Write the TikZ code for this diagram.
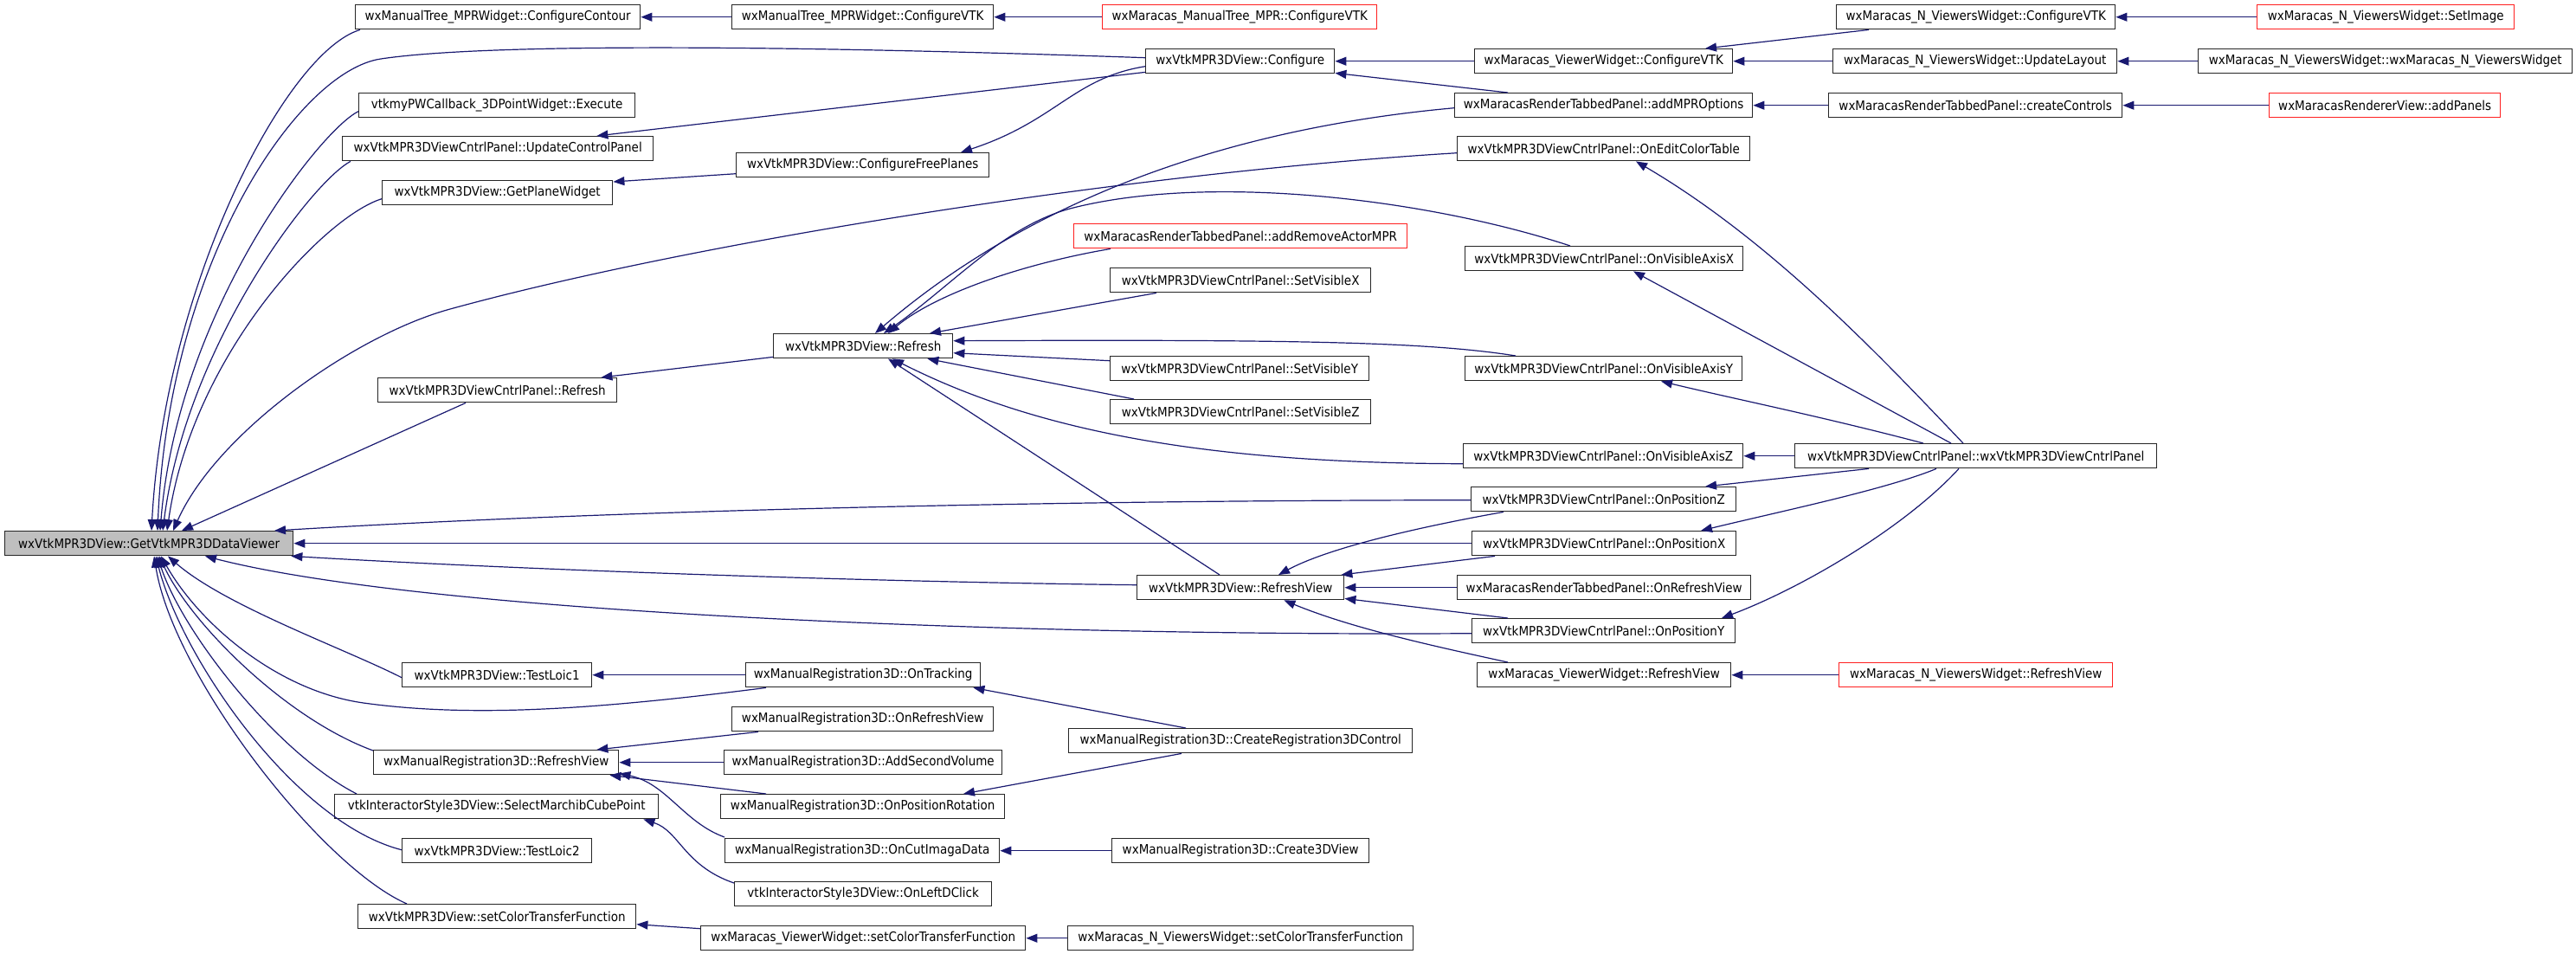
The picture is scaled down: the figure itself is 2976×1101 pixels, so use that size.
\documentclass[tikz,border=0pt]{standalone}
\usepackage{fontspec}
\IfFontExistsTF{DejaVu Sans Condensed}{\setmainfont{DejaVu Sans Condensed}}{\setmainfont{DejaVu Sans}[FakeStretch=0.88]}
\usetikzlibrary{arrows.meta,calc}
\definecolor{edgeblue}{HTML}{191970}
\definecolor{nodered}{HTML}{FF2020}
\definecolor{mainfill}{HTML}{BFBFBF}
\tikzset{
  box/.style={draw=black!85, line width=1.4pt, rectangle, minimum height=28pt, inner sep=0pt, anchor=north west, fill=white, font=\fontsize{15}{18}\selectfont},
  redbox/.style={box, draw=nodered},
  mainbox/.style={box, fill=mainfill},
  edge/.style={draw=edgeblue, line width=1.2pt, -{Triangle[length=13pt,width=10pt]}},
}
\begin{document}
\begin{tikzpicture}[x=1pt,y=-1pt]
\useasboundingbox (0,0) rectangle (2976,1101);
% column 0
\node[mainbox, minimum width=333pt] (main) at (5,613) {wxVtkMPR3DView::GetVtkMPR3DDataViewer};
% column 1
\node[box, minimum width=329pt] (cc) at (410,5) {wxManualTree\_MPRWidget::ConfigureContour};
\node[box, minimum width=319pt] (exe) at (414,107) {vtkmyPWCallback\_3DPointWidget::Execute};
\node[box, minimum width=359pt] (ucp) at (395,157) {wxVtkMPR3DViewCntrlPanel::UpdateControlPanel};
\node[box, minimum width=266pt] (gpw) at (441,208) {wxVtkMPR3DView::GetPlaneWidget};
\node[box, minimum width=276pt] (cpr) at (436,436) {wxVtkMPR3DViewCntrlPanel::Refresh};
\node[box, minimum width=219pt] (tl1) at (464,765) {wxVtkMPR3DView::TestLoic1};
\node[box, minimum width=283pt] (mrrv) at (431,866) {wxManualRegistration3D::RefreshView};
\node[box, minimum width=374pt] (smcp) at (386,917) {vtkInteractorStyle3DView::SelectMarchibCubePoint};
\node[box, minimum width=219pt] (tl2) at (464,968) {wxVtkMPR3DView::TestLoic2};
\node[box, minimum width=321pt] (sctf) at (413,1044) {wxVtkMPR3DView::setColorTransferFunction};
% column 2
\node[box, minimum width=302pt] (cvtk) at (845,5) {wxManualTree\_MPRWidget::ConfigureVTK};
\node[box, minimum width=292pt] (cfp) at (850,176) {wxVtkMPR3DView::ConfigureFreePlanes};
\node[box, minimum width=207pt] (ref) at (893,385) {wxVtkMPR3DView::Refresh};
\node[box, minimum width=271pt] (ontr) at (861,765) {wxManualRegistration3D::OnTracking};
\node[box, minimum width=302pt] (onrv) at (845,816) {wxManualRegistration3D::OnRefreshView};
\node[box, minimum width=321pt] (asv) at (836,866) {wxManualRegistration3D::AddSecondVolume};
\node[box, minimum width=328pt] (opr) at (832,917) {wxManualRegistration3D::OnPositionRotation};
\node[box, minimum width=317pt] (ocid) at (837,968) {wxManualRegistration3D::OnCutImagaData};
\node[box, minimum width=297pt] (oldc) at (848,1018) {vtkInteractorStyle3DView::OnLeftDClick};
\node[box, minimum width=375pt] (vwsctf) at (809,1069) {wxMaracas\_ViewerWidget::setColorTransferFunction};
% column 3
\node[redbox, minimum width=317pt] (mtmpr) at (1273,5) {wxMaracas\_ManualTree\_MPR::ConfigureVTK};
\node[box, minimum width=218pt] (conf) at (1323,56) {wxVtkMPR3DView::Configure};
\node[redbox, minimum width=385pt] (arma) at (1240,258) {wxMaracasRenderTabbedPanel::addRemoveActorMPR};
\node[box, minimum width=301pt] (svx) at (1282,309) {wxVtkMPR3DViewCntrlPanel::SetVisibleX};
\node[box, minimum width=299pt] (svy) at (1282,411) {wxVtkMPR3DViewCntrlPanel::SetVisibleY};
\node[box, minimum width=301pt] (svz) at (1282,461) {wxVtkMPR3DViewCntrlPanel::SetVisibleZ};
\node[box, minimum width=239pt] (rv) at (1313,664) {wxVtkMPR3DView::RefreshView};
\node[box, minimum width=397pt] (cr3c) at (1234,841) {wxManualRegistration3D::CreateRegistration3DControl};
\node[box, minimum width=297pt] (c3v) at (1284,968) {wxManualRegistration3D::Create3DView};
\node[box, minimum width=399pt] (nvwsctf) at (1233,1069) {wxMaracas\_N\_ViewersWidget::setColorTransferFunction};
% column 4
\node[box, minimum width=298pt] (vwcvtk) at (1703,56) {wxMaracas\_ViewerWidget::ConfigureVTK};
\node[box, minimum width=344pt] (ampo) at (1680,107) {wxMaracasRenderTabbedPanel::addMPROptions};
\node[box, minimum width=338pt] (oect) at (1683,157) {wxVtkMPR3DViewCntrlPanel::OnEditColorTable};
\node[box, minimum width=321pt] (ovax) at (1692,284) {wxVtkMPR3DViewCntrlPanel::OnVisibleAxisX};
\node[box, minimum width=320pt] (ovay) at (1692,411) {wxVtkMPR3DViewCntrlPanel::OnVisibleAxisY};
\node[box, minimum width=323pt] (ovaz) at (1690,512) {wxVtkMPR3DViewCntrlPanel::OnVisibleAxisZ};
\node[box, minimum width=306pt] (opz) at (1699,562) {wxVtkMPR3DViewCntrlPanel::OnPositionZ};
\node[box, minimum width=305pt] (opx) at (1700,613) {wxVtkMPR3DViewCntrlPanel::OnPositionX};
\node[box, minimum width=339pt] (mrtprv) at (1683,664) {wxMaracasRenderTabbedPanel::OnRefreshView};
\node[box, minimum width=304pt] (opy) at (1700,714) {wxVtkMPR3DViewCntrlPanel::OnPositionY};
\node[box, minimum width=293pt] (vwrv) at (1706,765) {wxMaracas\_ViewerWidget::RefreshView};
% column 5
\node[box, minimum width=322pt] (nvwcvtk) at (2121,5) {wxMaracas\_N\_ViewersWidget::ConfigureVTK};
\node[box, minimum width=328pt] (nvwul) at (2117,56) {wxMaracas\_N\_ViewersWidget::UpdateLayout};
\node[box, minimum width=339pt] (cctl) at (2112,107) {wxMaracasRenderTabbedPanel::createControls};
\node[box, minimum width=418pt] (ctor) at (2073,512) {wxVtkMPR3DViewCntrlPanel::wxVtkMPR3DViewCntrlPanel};
\node[redbox, minimum width=316pt] (nvwrv) at (2124,765) {wxMaracas\_N\_ViewersWidget::RefreshView};
% column 6
\node[redbox, minimum width=297pt] (simg) at (2607,5) {wxMaracas\_N\_ViewersWidget::SetImage};
\node[box, minimum width=432pt] (nvwctor) at (2539,56) {wxMaracas\_N\_ViewersWidget::wxMaracas\_N\_ViewersWidget};
\node[redbox, minimum width=267pt] (apan) at (2621,107) {wxMaracasRendererView::addPanels};

% ---- edges into main
\draw[edge] ($(cc.south west)+(6,0)$) .. controls (330,60) and (190,330) .. ($(main.north west)+(170,0)$);
\draw[edge] ($(conf.west)+(0,-4)$) .. controls (900,52) and (560,50) .. (440,68) .. controls (345,82) and (195,300) .. ($(main.north west)+(177,0)$);
\draw[edge] ($(exe.west)+(0,7)$) .. controls (370,150) and (205,360) .. ($(main.north west)+(180,0)$);
\draw[edge] ($(ucp.south west)+(10,0)$) .. controls (360,210) and (215,400) .. ($(main.north west)+(183,0)$);
\draw[edge] ($(gpw.west)+(0,7)$) .. controls (375,250) and (222,410) .. ($(main.north west)+(188,0)$);
\draw[edge] ($(oect.west)+(0,5)$) .. controls (1300,200) and (800,280) .. (520,357) .. controls (410,387) and (250,500) .. ($(main.north west)+(195,0)$);
\draw[edge] ($(cpr.south west)+(102,0)$) -- ($(main.north west)+(205,0)$);
\draw[edge] ($(opz.west)+(0,1)$) .. controls (1200,578) and (700,590) .. ($(main.north west)+(312,0)$);
\draw[edge] (opx.west) -- (main.east);
\draw[edge] ($(rv.west)+(0,-3)$) .. controls (1000,672) and (600,658) .. ($(main.south east)+(-3,0)$);
\draw[edge] ($(opy.west)+(0,3)$) .. controls (1200,735) and (500,710) .. ($(main.south west)+(232,0)$);
\draw[edge] ($(tl1.west)+(0,3)$) .. controls (400,750) and (260,700) .. ($(main.south west)+(189,0)$);
\draw[edge] ($(ontr.south west)+(24,0)$) .. controls (700,818) and (550,830) .. (420,812) .. controls (320,798) and (230,720) .. ($(main.south west)+(181,0)$);
\draw[edge] ($(mrrv.north west)+(0,1)$) .. controls (330,830) and (220,720) .. ($(main.south west)+(179,0)$);
\draw[edge] ($(smcp.north west)+(26,0)$) .. controls (320,870) and (210,730) .. ($(main.south west)+(177,0)$);
\draw[edge] ($(tl2.west)+(0,-1)$) .. controls (340,950) and (210,760) .. ($(main.south west)+(175,0)$);
\draw[edge] ($(sctf.north west)+(57,0)$) .. controls (370,1000) and (200,780) .. ($(main.south west)+(173,0)$);

% ---- top rows
\draw[edge] (cvtk.west) -- (cc.east);
\draw[edge] (mtmpr.west) -- (cvtk.east);
\draw[edge] (vwcvtk.west) -- (conf.east);
\draw[edge] ($(ampo.north west)+(62,0)$) -- ($(conf.south east)+(0,-1)$);
\draw[edge] ($(conf.south west)+(0,-2)$) -- ($(ucp.north east)+(-66,0)$);
\draw[edge] ($(conf.west)+(0,6)$) .. controls (1240,90) and (1220,140) .. ($(cfp.north west)+(260,0)$);
\draw[edge] ($(cfp.west)+(0,10)$) -- ($(gpw.north east)+(0,2)$);
\draw[edge] ($(nvwcvtk.south west)+(38,0)$) -- ($(vwcvtk.north west)+(267,0)$);
\draw[edge] (nvwul.west) -- (vwcvtk.east);
\draw[edge] (simg.west) -- (nvwcvtk.east);
\draw[edge] (nvwctor.west) -- (nvwul.east);
\draw[edge] (cctl.west) -- (ampo.east);
\draw[edge] (apan.west) -- (cctl.east);

% ---- Refresh
\draw[edge] ($(ref.south west)+(0,-2)$) -- ($(cpr.north east)+(-19,0)$);
\draw[edge] ($(ampo.west)+(0,3)$) .. controls (1400,150) and (1180,240) .. ($(ref.north west)+(118,0)$);
\draw[edge] ($(arma.south west)+(43,0)$) .. controls (1180,305) and (1080,340) .. ($(ref.north west)+(133,0)$);
\draw[edge] ($(ovax.north west)+(122,0)$) .. controls (1650,230) and (1400,200) .. (1240,240) .. controls (1160,260) and (1100,330) .. ($(ref.north west)+(128,0)$);
\draw[edge] ($(svx.south west)+(54,0)$) -- ($(ref.north west)+(181,0)$);
\draw[edge] ($(ovay.north west)+(59,0)$) .. controls (1650,395) and (1500,392) .. ($(ref.east)+(0,-6)$);
\draw[edge] ($(svy.west)+(0,-9)$) -- ($(ref.east)+(0,8)$);
\draw[edge] ($(svz.north west)+(28,0)$) -- ($(ref.south east)+(-30,0)$);
\draw[edge] ($(ovaz.west)+(0,9)$) .. controls (1400,535) and (1200,500) .. ($(ref.south west)+(138,0)$);
\draw[edge] ($(rv.north west)+(96,0)$) -- ($(ref.south west)+(133,0)$);

% ---- RefreshView
\draw[edge] ($(opz.south west)+(38,0)$) .. controls (1660,605) and (1540,630) .. ($(rv.north west)+(164,0)$);
\draw[edge] ($(opx.south west)+(27,0)$) -- ($(rv.north east)+(-4,0)$);
\draw[edge] (mrtprv.west) -- (rv.east);
\draw[edge] ($(opy.north west)+(42,0)$) -- ($(rv.south east)+(0,-2)$);
\draw[edge] ($(vwrv.north west)+(36,0)$) .. controls (1650,745) and (1560,725) .. ($(rv.south east)+(-70,0)$);
\draw[edge] (nvwrv.west) -- (vwrv.east);

% ---- CntrlPanel constructor
\draw[edge] ($(ctor.north west)+(195,0)$) .. controls (2180,420) and (2050,280) .. ($(oect.south west)+(207,0)$);
\draw[edge] ($(ctor.north west)+(181,0)$) -- ($(ovax.south west)+(195,0)$);
\draw[edge] ($(ctor.north west)+(149,0)$) .. controls (2100,480) and (2000,460) .. ($(ovay.south west)+(227,0)$);
\draw[edge] (ctor.west) -- (ovaz.east);
\draw[edge] ($(ctor.south west)+(86,0)$) -- ($(opz.north west)+(271,0)$);
\draw[edge] ($(ctor.south west)+(164,0)$) .. controls (2180,565) and (2060,590) .. ($(opx.north west)+(265,0)$);
\draw[edge] ($(ctor.south west)+(190,0)$) .. controls (2200,610) and (2080,680) .. ($(opy.north west)+(289,0)$);

% ---- manual registration
\draw[edge] (ontr.west) -- (tl1.east);
\draw[edge] ($(onrv.south west)+(31,0)$) -- ($(mrrv.north east)+(-26,0)$);
\draw[edge] (asv.west) -- (mrrv.east);
\draw[edge] ($(ocid.north west)+(0,-1)$) .. controls (790,950) and (770,905) .. ($(mrrv.south east)+(0,-2)$);
\draw[edge] ($(opr.north west)+(53,0)$) -- ($(mrrv.south east)+(-11,0)$);
\draw[edge] ($(cr3c.north west)+(136,0)$) -- ($(ontr.south east)+(-9,0)$);
\draw[edge] ($(cr3c.south west)+(131,0)$) -- ($(opr.north west)+(281,0)$);
\draw[edge] (c3v.west) -- (ocid.east);
\draw[edge] ($(oldc.north west)+(0,2)$) .. controls (790,1000) and (785,960) .. ($(smcp.south east)+(-18,0)$);
\draw[edge] ($(vwsctf.west)+(0,-11)$) -- ($(sctf.east)+(0,9)$);
\draw[edge] (nvwsctf.west) -- (vwsctf.east);
\end{tikzpicture}
\end{document}
